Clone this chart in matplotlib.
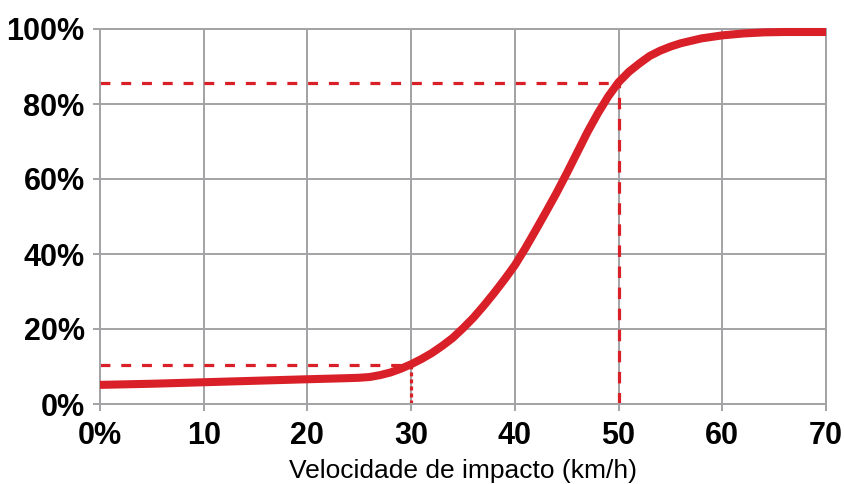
import matplotlib
matplotlib.use("Agg")
import matplotlib.pyplot as plt
from matplotlib import font_manager

# ---- data ----
speed = [0, 5, 10, 15, 20, 24, 25, 26, 27, 28, 29, 30, 31, 32, 33, 34, 35, 36, 37, 38,
         39, 40, 41, 42, 43, 44, 45, 46, 47, 48, 49, 50, 51, 52, 53, 54, 55, 56,
         58, 60, 62, 64, 66, 70]
risk = [5.1, 5.4, 5.8, 6.2, 6.6, 6.9, 7.0, 7.2, 7.7, 8.4, 9.4, 10.6, 12.0, 13.6, 15.5,
        17.6, 20.2, 23.0, 26.2, 29.6, 33.2, 37.0, 41.5, 46.3, 51.2, 56.2, 61.5,
        67.0, 72.5, 77.5, 82.0, 85.8, 88.6, 90.8, 92.8, 94.2, 95.3, 96.2, 97.5,
        98.3, 98.8, 99.1, 99.2, 99.2]
ref_low = (30, 10.4)
ref_high = (50, 85.6)
x_ticks = [0, 10, 20, 30, 40, 50, 60, 70]
x_labels = ["0%", "10", "20", "30", "40", "50", "60", "70"]
y_ticks = [0, 20, 40, 60, 80, 100]
y_labels = ["0%", "20%", "40%", "60%", "80%", "100%"]
x_title = "Velocidade de impacto (km/h)"

names = {f.name for f in font_manager.fontManager.ttflist}
fam = ["Liberation Sans Narrow"] if "Liberation Sans Narrow" in names else ["Liberation Sans"]
fam = fam + ["DejaVu Sans"]

RED = "#d91f27"
GRAY = "#a3a3a6"

fig = plt.figure(figsize=(8.45, 4.84), dpi=100)
ax = fig.add_axes([100 / 845, 1 - 404 / 484, 726 / 845, 375 / 484])

ax.set_xlim(0, 70)
ax.set_ylim(0, 100)

ax.set_xticks(x_ticks)
ax.set_yticks(y_ticks)
ax.grid(True, color=GRAY, linewidth=1.4, zorder=0)
for s in ax.spines.values():
    s.set_color(GRAY)
    s.set_linewidth(1.4)
ax.tick_params(axis="both", colors=GRAY, length=5, width=1.4)
ax.tick_params(axis="y", pad=6)
ax.tick_params(axis="x", pad=7)
ax.set_xticklabels(x_labels, family=fam, fontweight="bold", fontsize=22, color="black")
ax.set_yticklabels(y_labels, family=fam, fontweight="bold", fontsize=22, color="black")

# reference dashed lines
LW = 2.3
ax.plot([0, ref_low[0]], [ref_low[1], ref_low[1]], color=RED, lw=LW,
        dashes=(3.1, 3.4), zorder=2)
ax.plot([ref_low[0], ref_low[0]], [0, ref_low[1]], color=RED, lw=LW,
        dashes=(1.25, 0.95), zorder=2)
ax.plot([0, ref_high[0]], [ref_high[1], ref_high[1]], color=RED, lw=LW,
        dashes=(3.1, 3.4), zorder=2)
ax.plot([ref_high[0], ref_high[0]], [0, ref_high[1]], color=RED, lw=LW,
        dashes=(3.6, 3.0), zorder=2)

ax.plot(speed, risk, color=RED, lw=5.8, solid_capstyle="butt",
        solid_joinstyle="round", zorder=3, clip_on=False)

ax.set_xlabel(x_title, family=fam, fontsize=19, color="black", labelpad=6)

fig.savefig("out.png", dpi=100)
